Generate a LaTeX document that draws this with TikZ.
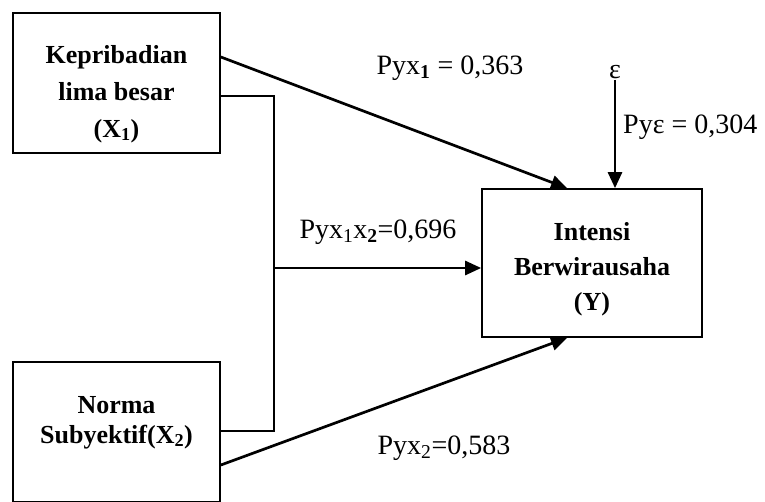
\documentclass[tikz,border=0pt]{standalone}
\usepackage{fontspec}
\setmainfont{Liberation Serif}
\usetikzlibrary{arrows.meta,calc}

\begin{document}
\begin{tikzpicture}[%
        x = 1pt, y = -1pt,
        box/.style = {draw, line width=1.7pt, align=center,
                      font=\fontsize{26}{37}\selectfont\bfseries},
        path/.style = {line width=2.7pt, -{Triangle[length=16pt,width=14pt]}},
        coef/.style = {font=\fontsize{28}{30}\selectfont, inner sep=0pt}
    ]
      \useasboundingbox (0,0) rectangle (765,501);
      % variabel
      \node[box, minimum width=207pt, minimum height=140pt, text height=114pt] (kep) at (116.5,83)
        {Kepribadian\\lima besar\\(X\textsubscript{1})};
      \node[box, minimum width=207pt, minimum height=140pt, text height=28pt,
            font=\fontsize{26}{30}\selectfont\bfseries] (nor) at (116.5,432)
        {Norma\\Subyektif(X\textsubscript{2})};
      \node[box, minimum width=220pt, minimum height=148pt, text height=100pt,
            font=\fontsize{26}{35}\selectfont\bfseries] (int) at (592,263)
        {Intensi\\Berwirausaha\\(Y)};
      \node[font=\fontsize{28}{30}\selectfont, inner sep=1pt] (eps) at (615,72) {ε};
      % jalur
      \draw[path] ([yshift=26pt]kep.east) -- ([xshift=-25pt]int.north);
      \draw[path] ([yshift=-33pt]nor.east) -- ([xshift=-25pt]int.south);
      \draw[path] (eps.south) -- (eps |- int.north);
      \coordinate (j) at (274,268);
      \draw[line width=1.8pt] ([yshift=-13pt]kep.east) -| (j) |- ([yshift=1pt]nor.east);
      \draw[path] (j) -- (j -| int.west);
      % koefisien
      \node[coef] (p1) at (450,68) {Pyx\textsubscript{\textbf{1}} = 0,363};
      \node[coef, anchor=west] (pe) at (623,127) {Pyε = 0,304};
      \node[coef] (p12) at (378,232) {Pyx\textsubscript{1}x\textsubscript{\textbf{2}}=0,696};
      \node[coef] (p2) at (444,448) {Pyx\textsubscript{2}=0,583};
    \end{tikzpicture}
\end{document}
